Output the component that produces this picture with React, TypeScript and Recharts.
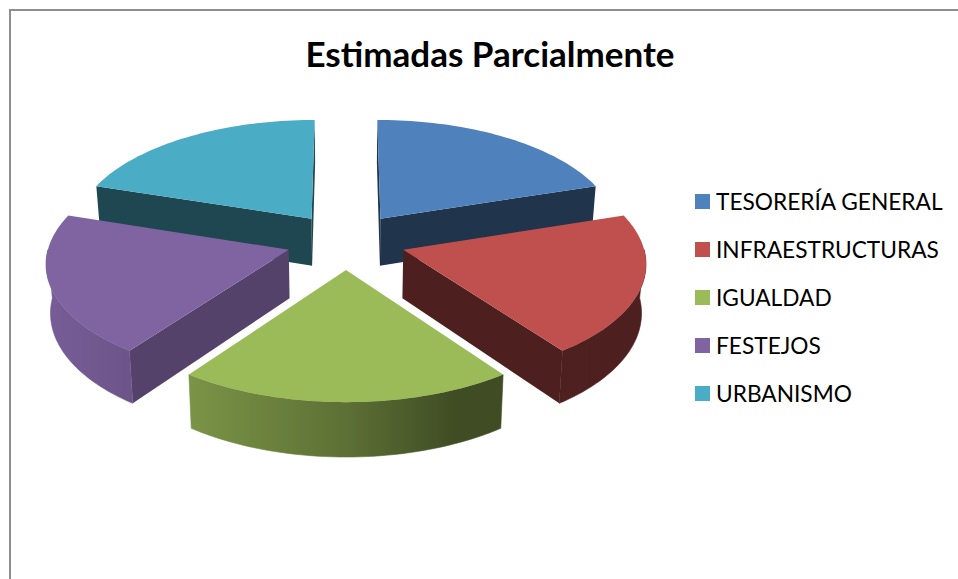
import React from 'react';
import { PieChart, Pie, Legend } from 'recharts';

const categories = ['TESORERÍA GENERAL', 'INFRAESTRUCTURAS', 'IGUALDAD', 'FESTEJOS', 'URBANISMO'];
const values = [20, 20, 20, 20, 20];
const colors = ['#4f81bd', '#c0504d', '#9bbb59', '#8064a2', '#4bacc6'];
// how dark the straight cut walls are, per slice
const cutShades = [0.4, 0.4, 0.41, 0.66, 0.41];

// the pie starts with the back-left slice so that slices nearer the viewer paint last
const drawOrder = [4, 0, 1, 2, 3];
const pieData = drawOrder.map(i => ({
    name: categories[i],
    value: values[i],
    fill: colors[i],
    cutShade: cutShades[i],
}));

const TILT = 0.472;
const PERSPECTIVE = 0.1;
const EXPLODE = 0.25;
const DEPTH = 48;
const RAD = Math.PI / 180;

function shade(hex: string, k: number) {
    const n = parseInt(hex.slice(1), 16);
    const c = [(n >> 16) & 255, (n >> 8) & 255, n & 255].map(v => Math.round(v * k));
    return `rgb(${c.join(',')})`;
}

const wallStops = [
    [0, 0.93],
    [0.25, 0.78],
    [0.5, 0.6],
    [0.68, 0.41],
    [1, 0.4],
];

function Slice3D(props: any) {
    const { cx, cy, outerRadius, startAngle, endAngle, midAngle, fill, cutShade, index } = props;
    const mid = midAngle ?? (startAngle + endAngle) / 2;
    const u0 = EXPLODE * Math.cos(mid * RAD);
    const v0 = -EXPLODE * Math.sin(mid * RAD);

    const project = (u: number, v: number, lower: boolean) => {
        const s = 1 / (1 - PERSPECTIVE * v);
        const x = outerRadius * u * s;
        const y = outerRadius * TILT * v * s;
        return lower ? [cx + x * 0.985, cy + y + DEPTH * s] : [cx + x, cy + y];
    };

    const angles: number[] = [];
    for (let i = 0; i <= 48; i++) angles.push(startAngle + ((endAngle - startAngle) * i) / 48);
    const rim = (a: number, lower: boolean) => project(u0 + Math.cos(a * RAD), v0 - Math.sin(a * RAD), lower);

    const top = angles.map(a => rim(a, false));
    // only the near half of the rim shows a wall
    const front = angles.filter(a => Math.sin(a * RAD) <= 0.001);
    const frontTop = front.map(a => rim(a, false));
    const frontBottom = front.map(a => rim(a, true)).reverse();
    const tipTop = project(u0, v0, false);
    const tipBottom = project(u0, v0, true);
    const path = (pts: number[][]) => 'M' + pts.map(p => `${p[0].toFixed(2)},${p[1].toFixed(2)}`).join('L') + 'Z';
    const gradId = `wall-${index}`;
    const cutFill = shade(fill, cutShade);
    // a cut wall is only drawn when its outward side faces the viewer
    const startVisible = Math.sin((startAngle + 90) * RAD) <= 0.001;
    const endVisible = Math.sin((endAngle - 90) * RAD) <= 0.001;

    return (
        <g>
            <defs>
                <linearGradient id={gradId} gradientUnits="userSpaceOnUse" x1={cx - outerRadius * 1.25} x2={cx + outerRadius * 1.25} y1={0} y2={0}>
                    {wallStops.map(([o, k]) => (
                        <stop key={o} offset={o} stopColor={shade(fill, k)} />
                    ))}
                </linearGradient>
            </defs>
            {startVisible && <path d={path([tipTop, top[0], rim(angles[0], true), tipBottom])} fill={cutFill} />}
            {endVisible && <path d={path([tipTop, top[48], rim(angles[48], true), tipBottom])} fill={cutFill} />}
            {front.length > 1 && (
                <path d={path([...frontTop, ...frontBottom])} fill={`url(#${gradId})`} stroke={`url(#${gradId})`} strokeWidth={0.6} />
            )}
            <path d={path([tipTop, ...top])} fill={fill} />
        </g>
    );
}

function LegendList({ payload }: any) {
    const items = [...(payload || [])].sort((a, b) => categories.indexOf(a.value) - categories.indexOf(b.value));
    return (
        <div>
            {items.map(item => (
                <div key={item.value} style={{ display: 'flex', alignItems: 'center', height: 48 }}>
                    <span style={{ width: 15, height: 15, background: item.color, marginRight: 6, flex: 'none' }} />
                    <span style={{ fontFamily: 'Lato', fontSize: 22.7, color: '#000', whiteSpace: 'nowrap' }}>{item.value}</span>
                </div>
            ))}
        </div>
    );
}

export default function App() {
    return (
        <div style={{ position: 'absolute', left: 0, top: 0, width: 958, height: 579, overflow: 'hidden', background: '#fff' }}>
            <div style={{ position: 'absolute', left: 9, top: 9, width: 960, height: 580, borderLeft: '2px solid #8e8e8e', borderTop: '2px solid #8e8e8e' }} />
            <div style={{ position: 'absolute', left: 0, top: 31, width: 980, textAlign: 'center', fontFamily: 'Lato', fontWeight: 700, fontSize: 35, lineHeight: '44px', color: '#000' }}>
                Estimadas Parcialmente
            </div>
            <div style={{ position: 'absolute', left: 0, top: 0 }}>
                <PieChart width={958} height={579} margin={{ top: 0, right: 0, bottom: 0, left: 0 }}>
                    <Pie
                        data={pieData}
                        dataKey="value"
                        nameKey="name"
                        cx={346}
                        cy={241}
                        outerRadius={239}
                        startAngle={162}
                        endAngle={-198}
                        stroke="none"
                        shape={Slice3D}
                        isAnimationActive={false}
                    />
                    <Legend
                        layout="vertical"
                        content={<LegendList />}
                        wrapperStyle={{ position: 'absolute', left: 695, top: 177, width: 263, bottom: 'auto' }}
                    />
                </PieChart>
            </div>
        </div>
    );
}
